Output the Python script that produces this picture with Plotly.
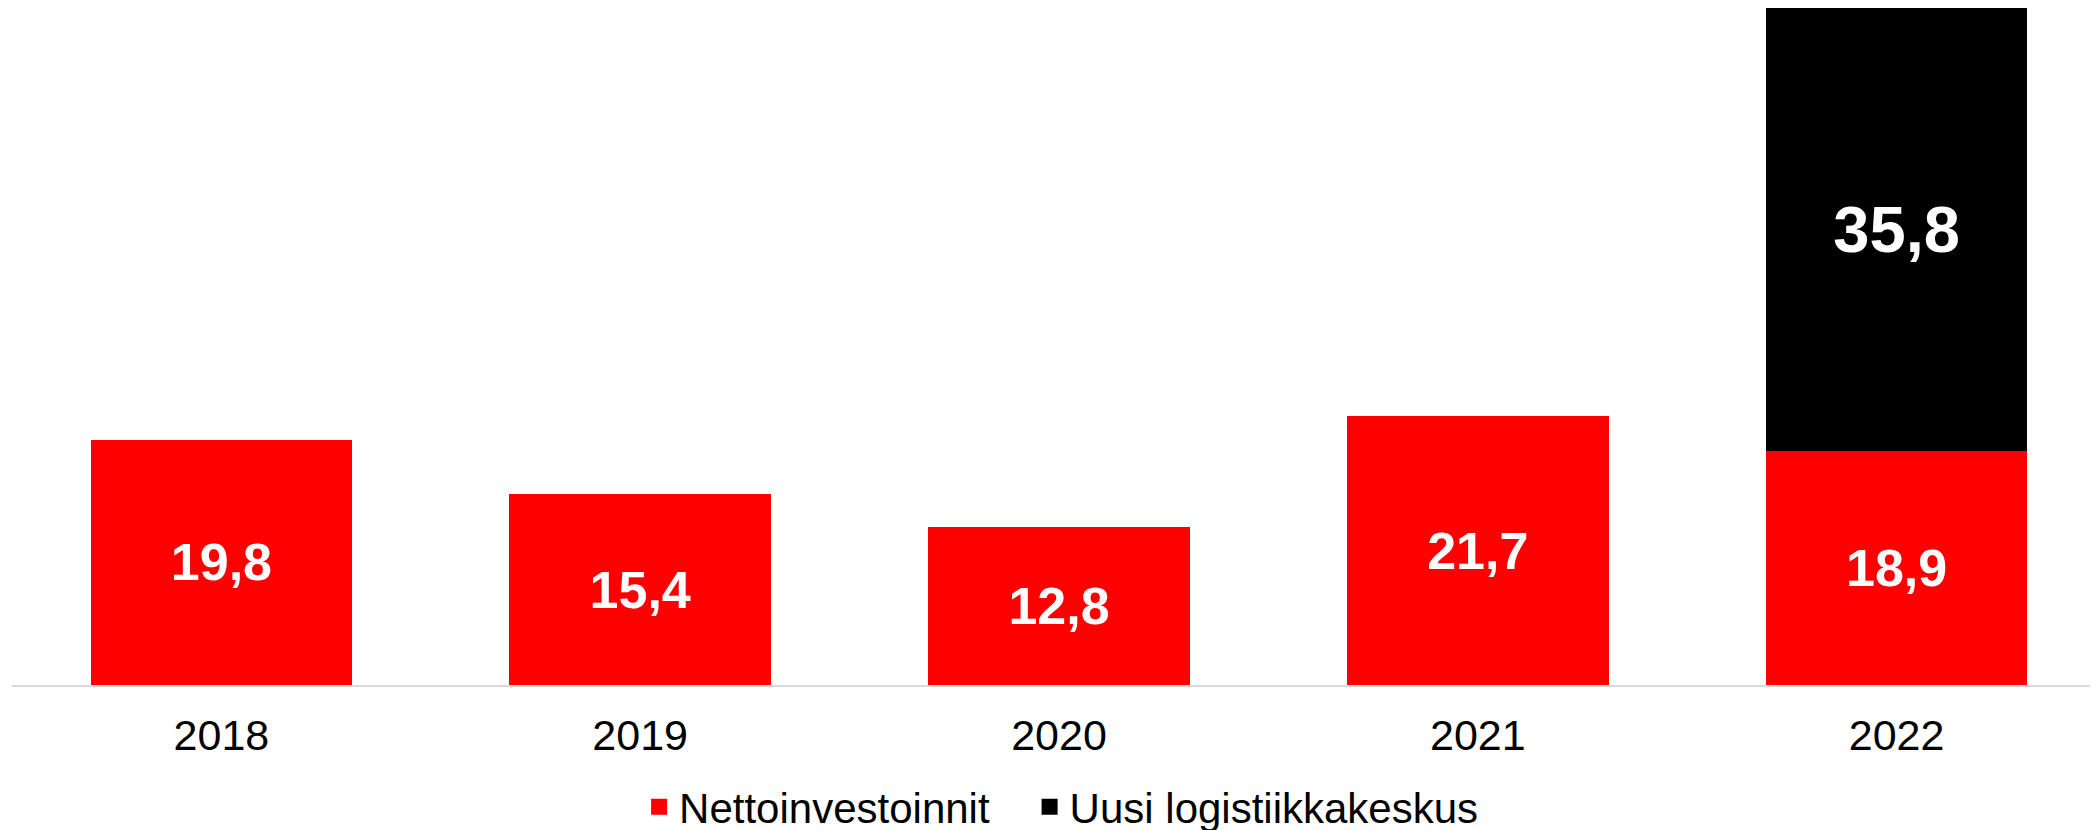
import plotly.graph_objects as go

vuodet = ['2018', '2019', '2020', '2021', '2022']
nettoinvestoinnit = [19.8, 15.4, 12.8, 21.7, 18.9]
logistiikkakeskus = [None, None, None, None, 35.8]
sarjat = ['Nettoinvestoinnit', 'Uusi logistiikkakeskus']

PUNAINEN = '#FF0000'
MUSTA = '#000000'
FONTTI = 'Liberation Sans, Arial, sans-serif'

fig = go.Figure()

fig.add_trace(go.Bar(x=vuodet, y=nettoinvestoinnit, name=sarjat[0],
                     marker=dict(color=PUNAINEN, line=dict(width=0)),
                     texttemplate='%{y:.1f}', textposition='inside',
                     insidetextanchor='middle', textangle=0,
                     textfont=dict(color='white', size=52, family=FONTTI, weight='bold'),
                     showlegend=False))
fig.add_trace(go.Bar(x=vuodet, y=logistiikkakeskus, name=sarjat[1],
                     marker=dict(color=MUSTA, line=dict(width=0)),
                     texttemplate='%{y:.1f}', textposition='inside',
                     insidetextanchor='middle', textangle=0,
                     textfont=dict(color='white', size=65, family=FONTTI, weight='bold'),
                     showlegend=False))

# legendan neliöt (väli kohteiden välille nbsp-merkeillä)
for nimi, vari in [(sarjat[0] + '\u00a0\u00a0\u00a0', PUNAINEN), (sarjat[1], MUSTA)]:
    fig.add_trace(go.Scatter(x=[None], y=[None], mode='markers', name=nimi,
                             marker=dict(symbol='square', size=16, color=vari)))

# sivun body-marginaali (8 px) siirtää kuvaa, joten marginaalit on pienennetty
fig.update_layout(
    barmode='stack',
    bargap=0.375,
    separators=', ',
    width=2098, height=830,
    margin=dict(l=4, r=0, t=0, b=153, autoexpand=False),
    paper_bgcolor='white', plot_bgcolor='white',
    font=dict(family=FONTTI, size=42, color='black'),
    uniformtext=dict(mode=False),
    legend=dict(orientation='h', x=0.501, xanchor='center', y=-0.18, yanchor='middle',
                font=dict(size=42), itemsizing='trace', traceorder='normal'),
)
fig.update_xaxes(showline=True, linecolor='#D9D9D9', linewidth=2, ticks='',
                 showgrid=False, tickfont=dict(size=43), automargin=False,
                 range=[-0.5, 4.5], ticklabelstandoff=11)
fig.update_yaxes(visible=False, range=[0, 54.7], showgrid=False, zeroline=False,
                 automargin=False)

fig.write_html('out.html')
